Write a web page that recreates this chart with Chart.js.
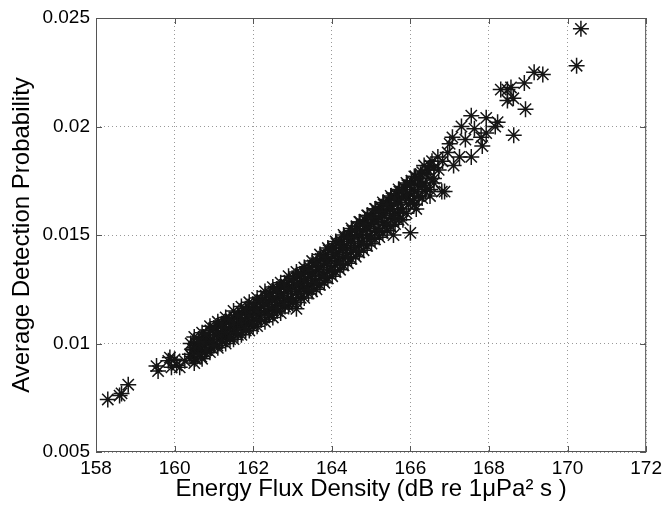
<!DOCTYPE html>
<html>
<head>
<meta charset="utf-8">
<title>Average Detection Probability vs Energy Flux Density</title>
<script src="https://cdn.jsdelivr.net/npm/chart.js@4.4.1/dist/chart.umd.min.js"></script>
<style>
    html, body { margin: 0; padding: 0; background: #fff; }
    #wrap { width: 667px; height: 508px; }
</style>
</head>
<body>
<div id="wrap"><canvas id="scatterChart" width="667" height="508"></canvas></div>
<script>
// Values (x = dB re 1uPa^2 s, y = probability)
const fluxDensity = [
    158.30, 158.60, 158.65, 158.82, 159.58, 159.54, 159.84, 159.88, 159.92, 160.00,
    160.05, 160.13, 160.26, 160.39, 160.47, 160.56,
    160.41, 160.44, 160.48, 160.52, 160.55, 160.58, 160.61, 160.64, 160.68,
    160.71, 160.74, 160.77, 160.79, 160.82, 160.85, 160.88, 160.91, 160.93, 160.96,
    161.01, 161.03, 161.06, 161.09, 161.12, 161.15, 161.18, 161.21, 161.24, 161.27, 161.29,
    161.32, 161.35, 161.38, 161.41, 161.44, 161.47, 161.49, 161.52, 161.55, 161.58,
    161.61, 161.63, 161.66, 161.69, 161.72, 161.75, 161.78, 161.81, 161.84, 161.87, 161.89,
    161.92, 161.95, 161.98, 162.00, 162.02, 162.05, 162.08, 162.11, 162.14, 162.17,
    162.21, 162.23, 162.26, 162.29, 162.32, 162.35, 162.38, 162.41, 162.44, 162.47, 162.49,
    162.52, 162.55, 162.58, 162.61, 162.63, 162.66, 162.69, 162.72, 162.75, 162.78,
    162.81, 162.84, 162.87, 162.89, 162.92, 162.95, 162.98, 163.01, 163.03, 163.06, 163.09,
    163.10, 163.12, 163.15, 163.18, 163.21, 163.24, 163.27, 163.29, 163.32, 163.35, 163.38,
    163.41, 163.44, 163.47, 163.49, 163.52, 163.55, 163.58, 163.61, 163.63, 163.66, 163.69,
    163.72, 163.75, 163.78, 163.81, 163.84, 163.87, 163.89, 163.92, 163.95, 163.98,
    164.01, 164.03, 164.06, 164.09, 164.12, 164.15, 164.18, 164.21, 164.24, 164.27, 164.29,
    164.32, 164.35, 164.38, 164.41, 164.44, 164.47, 164.49, 164.52, 164.55, 164.58,
    164.61, 164.63, 164.66, 164.69, 164.72, 164.75, 164.78, 164.81, 164.84, 164.87, 164.89,
    164.92, 164.95, 164.98, 165.01, 165.03, 165.06, 165.09, 165.12, 165.15, 165.18,
    165.21, 165.24, 165.27, 165.29, 165.32, 165.35, 165.38, 165.41, 165.44, 165.47, 165.49,
    165.52, 165.55, 165.57, 165.58, 165.61, 165.64, 165.67, 165.69, 165.72, 165.75, 165.78,
    165.81, 165.84, 165.87, 165.92, 165.95, 165.98, 166.00, 166.03, 166.06, 166.09, 166.15,
    166.13, 166.18, 166.22, 166.26, 166.35, 166.32, 166.38, 166.45, 166.50, 166.55, 166.60,
    166.70, 166.72, 166.80, 166.82, 166.87, 166.95, 167.00, 167.07, 167.10, 167.25,
    167.30, 167.40, 167.55, 167.55, 167.63, 167.80, 167.83, 167.93, 167.93, 168.16,
    168.22, 168.30, 168.47, 168.47, 168.56, 168.62, 168.63, 168.90, 168.93, 169.15,
    169.37, 170.23, 170.34,
    // edges of the dense band
    160.50, 160.50, 160.50, 160.70, 160.70, 160.70, 160.90, 160.90, 160.90,
    161.10, 161.10, 161.10, 161.30, 161.30, 161.30, 161.50, 161.50, 161.50,
    161.70, 161.70, 161.70, 161.90, 161.90, 161.90, 162.10, 162.10, 162.10,
    162.30, 162.30, 162.30, 162.50, 162.50, 162.50, 162.70, 162.70, 162.70,
    162.90, 162.90, 162.90, 163.10, 163.10, 163.10, 163.30, 163.30, 163.30,
    163.50, 163.50, 163.50, 163.70, 163.70, 163.70, 163.90, 163.90, 163.90,
    164.10, 164.10, 164.10, 164.30, 164.30, 164.30, 164.50, 164.50, 164.50,
    164.70, 164.70, 164.70, 164.90, 164.90, 164.90, 165.10, 165.10, 165.10,
    165.30, 165.30, 165.30, 165.50, 165.50, 165.50, 165.70, 165.70, 165.70,
    165.90, 165.90, 165.90, 166.10, 166.10, 166.10, 166.30, 166.30, 166.30,
    166.50, 166.50, 166.50,
    160.60, 160.60, 160.80, 160.80, 161.00, 161.00, 161.20, 161.20, 161.40, 161.40,
    161.60, 161.60, 161.80, 161.80, 162.00, 162.00, 162.20, 162.20, 162.40, 162.40,
    162.60, 162.60, 162.80, 162.80, 163.00, 163.00, 163.20, 163.20, 163.40, 163.40,
    163.60, 163.60, 163.80, 163.80, 164.00, 164.00, 164.20, 164.20, 164.40, 164.40,
    164.60, 164.60, 164.80, 164.80, 165.00, 165.00, 165.20, 165.20, 165.40, 165.40,
    165.60, 165.60, 165.80, 165.80, 166.00, 166.00, 166.20, 166.20, 166.40, 166.40,
    166.60, 166.60
];
const detectionProb = [
    0.00742, 0.00760, 0.00770, 0.00810, 0.00873, 0.00896, 0.00920, 0.00935, 0.00890, 0.00927,
    0.00900, 0.00890, 0.00920, 0.00950, 0.00973, 0.00988,
    0.0100, 0.0094, 0.0097, 0.0093, 0.0100, 0.0096, 0.0102, 0.0097, 0.0094,
    0.0099, 0.0103, 0.0096, 0.0101, 0.0097, 0.0104, 0.0100, 0.0106, 0.0098, 0.0102,
    0.0100, 0.0107, 0.0104, 0.0099, 0.0108, 0.0102, 0.0105, 0.0101, 0.0109, 0.0106, 0.0103,
    0.0110, 0.0104, 0.0107, 0.0102, 0.0111, 0.0108, 0.0105, 0.0112, 0.0106, 0.0109,
    0.0104, 0.0113, 0.0110, 0.0107, 0.0114, 0.0108, 0.0111, 0.0106, 0.0115, 0.0112, 0.0109,
    0.0116, 0.0110, 0.0113, 0.0108, 0.0117, 0.0114, 0.0111, 0.0119, 0.0113, 0.0116,
    0.0111, 0.0120, 0.0117, 0.0114, 0.0122, 0.0115, 0.0119, 0.0113, 0.0123, 0.0120, 0.0116,
    0.0124, 0.0117, 0.0121, 0.0115, 0.0125, 0.0122, 0.0118, 0.0126, 0.0119, 0.0123,
    0.0117, 0.0127, 0.0124, 0.0120, 0.0129, 0.0121, 0.0126, 0.0119, 0.0130, 0.0127, 0.0123,
    0.0116, 0.0131, 0.0124, 0.0128, 0.0121, 0.0132, 0.0129, 0.0125, 0.0133, 0.0126, 0.0130,
    0.0123, 0.0135, 0.0131, 0.0127, 0.0136, 0.0128, 0.0133, 0.0125, 0.0138, 0.0134, 0.0130,
    0.0139, 0.0131, 0.0136, 0.0128, 0.0141, 0.0137, 0.0133, 0.0143, 0.0134, 0.0139,
    0.0131, 0.0144, 0.0141, 0.0136, 0.0146, 0.0138, 0.0142, 0.0134, 0.0147, 0.0144, 0.0139,
    0.0149, 0.0140, 0.0145, 0.0137, 0.0150, 0.0147, 0.0142, 0.0152, 0.0143, 0.0149,
    0.0140, 0.0154, 0.0150, 0.0145, 0.0156, 0.0147, 0.0152, 0.0143, 0.0157, 0.0154, 0.0149,
    0.0159, 0.0150, 0.0155, 0.0146, 0.0160, 0.0157, 0.0152, 0.0162, 0.0153, 0.0158,
    0.0149, 0.0163, 0.0160, 0.0155, 0.0164, 0.0156, 0.0161, 0.0152, 0.0166, 0.0162, 0.0158,
    0.0167, 0.0159, 0.0150, 0.0164, 0.0155, 0.0169, 0.0165, 0.0160, 0.0170, 0.0162, 0.0167,
    0.0157, 0.0172, 0.0168, 0.0173, 0.0164, 0.0169, 0.0151, 0.0175, 0.0166, 0.0171, 0.0162,
    0.0177, 0.0173, 0.0168, 0.0178, 0.0182, 0.0174, 0.0170, 0.0180, 0.0168, 0.0184, 0.0176,
    0.0186, 0.0180, 0.0170, 0.0184, 0.0170, 0.0188, 0.0192, 0.0195, 0.0182, 0.0186,
    0.0200, 0.0194, 0.0186, 0.0205, 0.0199, 0.0195, 0.0191, 0.0204, 0.0197, 0.0200,
    0.0202, 0.0217, 0.0217, 0.0212, 0.0218, 0.0213, 0.0196, 0.0220, 0.0208, 0.0225,
    0.0224, 0.0228, 0.0245,
    // edges of the dense band
    0.0103, 0.0091, 0.0098, 0.0105, 0.0093, 0.0100, 0.0108, 0.0096, 0.0101,
    0.0110, 0.0098, 0.0105, 0.0112, 0.0100, 0.0105, 0.0115, 0.0102, 0.0109,
    0.0117, 0.0104, 0.0111, 0.0119, 0.0106, 0.0113, 0.0121, 0.0108, 0.0115,
    0.0124, 0.0110, 0.0118, 0.0126, 0.0112, 0.0120, 0.0128, 0.0114, 0.0122,
    0.0131, 0.0117, 0.0125, 0.0133, 0.0119, 0.0127, 0.0135, 0.0121, 0.0129,
    0.0138, 0.0124, 0.0132, 0.0141, 0.0127, 0.0135, 0.0144, 0.0130, 0.0138,
    0.0147, 0.0133, 0.0141, 0.0150, 0.0136, 0.0144, 0.0153, 0.0139, 0.0147,
    0.0156, 0.0142, 0.0150, 0.0159, 0.0145, 0.0153, 0.0162, 0.0148, 0.0156,
    0.0165, 0.0151, 0.0159, 0.0168, 0.0154, 0.0162, 0.0171, 0.0157, 0.0165,
    0.0174, 0.0160, 0.0168, 0.0177, 0.0164, 0.0170, 0.0179, 0.0167, 0.0173,
    0.0182, 0.0171, 0.0176,
    0.0101, 0.0095, 0.0104, 0.0097, 0.0107, 0.0099, 0.0109, 0.0101, 0.0111, 0.0103,
    0.0113, 0.0105, 0.0116, 0.0107, 0.0118, 0.0109, 0.0120, 0.0111, 0.0122, 0.0113,
    0.0125, 0.0116, 0.0127, 0.0118, 0.0129, 0.0120, 0.0132, 0.0123, 0.0134, 0.0125,
    0.0137, 0.0128, 0.0140, 0.0131, 0.0143, 0.0134, 0.0146, 0.0137, 0.0149, 0.0140,
    0.0152, 0.0143, 0.0155, 0.0146, 0.0158, 0.0149, 0.0161, 0.0152, 0.0164, 0.0155,
    0.0167, 0.0158, 0.0170, 0.0161, 0.0173, 0.0165, 0.0176, 0.0168, 0.0178, 0.0172,
    0.0181, 0.0174
];

const xTicks = [158, 160, 162, 164, 166, 168, 170, 172];
const yTicks = [0.005, 0.01, 0.015, 0.02, 0.025];
const yTickLabels = ['0.005', '0.01', '0.015', '0.02', '0.025'];

const FONT = "'Liberation Sans', Arial, Helvetica, sans-serif";

// MATLAB-like box with inward ticks on all four sides
const boxPlugin = {
    id: 'matlabBox',
    afterDraw(chart) {
        const { ctx, chartArea: a, scales } = chart;
        const len = 6;
        ctx.save();
        ctx.strokeStyle = '#555';
        ctx.lineWidth = 1;
        ctx.strokeRect(a.left + 0.5, a.top + 0.5, a.right - a.left - 1, a.bottom - a.top - 1);
        ctx.beginPath();
        xTicks.forEach(v => {
            const px = Math.round(scales.x.getPixelForValue(v)) + 0.5;
            ctx.moveTo(px, a.bottom); ctx.lineTo(px, a.bottom - len);
            ctx.moveTo(px, a.top); ctx.lineTo(px, a.top + len);
        });
        yTicks.forEach(v => {
            const py = Math.round(scales.y.getPixelForValue(v)) + 0.5;
            ctx.moveTo(a.left, py); ctx.lineTo(a.left + len, py);
            ctx.moveTo(a.right, py); ctx.lineTo(a.right - len, py);
        });
        ctx.stroke();
        ctx.restore();
    }
};

new Chart(document.getElementById('scatterChart'), {
    type: 'scatter',
    data: {
        datasets: [{
            data: fluxDensity.map((x, i) => ({ x: x, y: detectionProb[i] })),
            pointStyle: 'star',
            radius: 8,
            borderColor: '#151515',
            backgroundColor: 'transparent',
            borderWidth: 1.5
        }]
    },
    options: {
        responsive: false,
        animation: false,
        devicePixelRatio: 1,
        layout: { padding: { top: 18, right: 20, left: 0, bottom: 0 } },
        plugins: { legend: { display: false }, tooltip: { enabled: false } },
        scales: {
            x: {
                type: 'linear',
                min: 158,
                max: 172,
                afterBuildTicks: s => { s.ticks = xTicks.map(v => ({ value: v })); },
                afterFit: s => { s.height = 56; },
                grid: { color: '#999', drawTicks: false },
                border: { display: false, dash: [1, 3] },
                ticks: {
                    padding: 5,
                    maxRotation: 0,
                    color: '#000',
                    font: { family: FONT, size: 19 },
                    callback: v => String(v)
                },
                title: {
                    display: true,
                    text: 'Energy Flux Density (dB re 1\u03bcPa\u00b2 s )',
                    color: '#000',
                    font: { family: FONT, size: 24 },
                    padding: { top: 0, bottom: 4 }
                }
            },
            y: {
                type: 'linear',
                min: 0.005,
                max: 0.025,
                afterBuildTicks: s => { s.ticks = yTicks.map(v => ({ value: v })); },
                afterFit: s => { s.width = 96; },
                grid: { color: '#999', drawTicks: false },
                border: { display: false, dash: [1, 3] },
                ticks: {
                    padding: 6,
                    color: '#000',
                    font: { family: FONT, size: 19 },
                    callback: (v, i) => yTickLabels[i]
                },
                title: {
                    display: true,
                    text: 'Average Detection Probability',
                    color: '#000',
                    font: { family: FONT, size: 24 },
                    padding: { top: 8, bottom: 0 }
                }
            }
        }
    },
    plugins: [boxPlugin]
});
</script>
</body>
</html>
